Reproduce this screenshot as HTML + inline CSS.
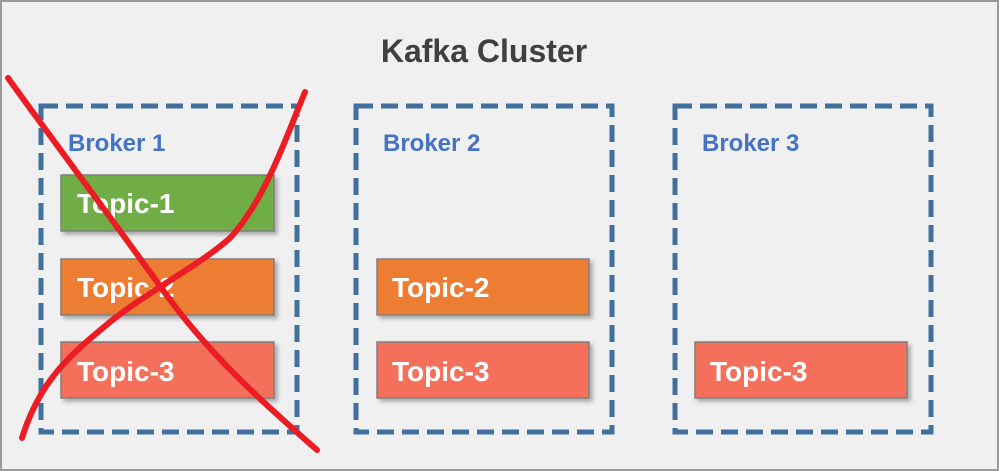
<!DOCTYPE html>
<html><head><style>
body{margin:0;width:999px;height:471px;overflow:hidden;background:#f0f0f0;font-family:"Liberation Sans",sans-serif;}
</style></head><body>
<svg width="999" height="471" xmlns="http://www.w3.org/2000/svg" style="position:absolute;left:0;top:0">
<defs><filter id="sh" x="-10%" y="-20%" width="130%" height="160%"><feDropShadow dx="3" dy="3" stdDeviation="2" flood-color="#000" flood-opacity="0.3"/></filter></defs>
<rect x="1" y="1" width="997" height="469" fill="#f0f0f0" stroke="#999" stroke-width="2"/>
<text x="484" y="62" text-anchor="middle" font-size="32" font-weight="bold" fill="#404040" font-family="Liberation Sans, sans-serif">Kafka Cluster</text>
<g fill="none" stroke="#41709f" stroke-width="5" stroke-dasharray="17,8">
<rect x="41" y="106" width="256" height="326"/>
<rect x="356" y="106" width="256" height="326"/>
<rect x="675" y="106" width="256" height="326"/>
</g>
<g font-size="24" font-weight="bold" fill="#4472c4">
<text x="68" y="151">Broker 1</text>
<text x="383" y="151">Broker 2</text>
<text x="702" y="151">Broker 3</text>
</g>
<g stroke="#7f7f7f" stroke-width="1.5" filter="url(#sh)">
<rect x="61" y="175" width="213" height="56" fill="#70ad47"/>
<rect x="61" y="259" width="213" height="56" fill="#ed7d31"/>
<rect x="61" y="342" width="213" height="56" fill="#f4705a"/>
<rect x="377" y="259" width="212" height="56" fill="#ed7d31"/>
<rect x="377" y="342" width="212" height="56" fill="#f4705a"/>
<rect x="695" y="342" width="212" height="56" fill="#f4705a"/>
</g>
<g font-size="28" font-weight="bold" fill="#fff">
<text x="77" y="213">Topic-1</text>
<text x="77" y="297">Topic-2</text>
<text x="77" y="381">Topic-3</text>
<text x="392" y="297">Topic-2</text>
<text x="392" y="381">Topic-3</text>
<text x="710" y="381">Topic-3</text>
</g>
<g fill="none" stroke="#ec1c24" stroke-width="6" stroke-linecap="round">
<path d="M8,78 C60,150 120,230 165,293 C210,355 260,400 317,450"/>
<path d="M305,92 C285,140 265,200 230,238 C200,265 150,290 110,322 C70,355 40,380 22,438"/>
</g>
</svg>
</body></html>
